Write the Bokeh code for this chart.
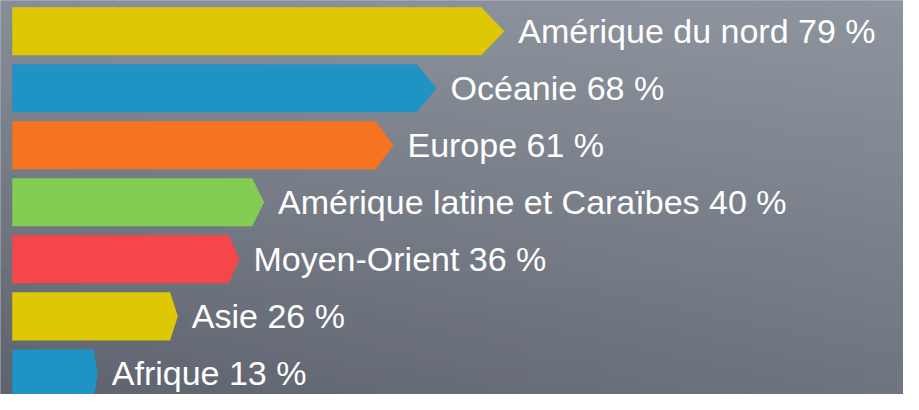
from bokeh.plotting import figure
from bokeh.models import Range1d, ColumnDataSource
from bokeh.core.properties import value
from bokeh.embed import file_html
from bokeh.resources import INLINE

# ---- data ----
regions = ["Amérique du nord", "Océanie", "Europe", "Amérique latine et Caraïbes",
           "Moyen-Orient", "Asie", "Afrique"]
percent = [79, 68, 61, 40, 36, 26, 13]
colors = ["#DEC805", "#1F93C4", "#F57321", "#83CD53", "#F5474A", "#DEC805", "#1F93C4"]

# ---- layout / style ----
W, H = 903, 394
X0, X1 = -2.79, 143.8
YB, YT = 6.370, -0.539
BAR_START = -0.88
BAR_H = 0.842
TIP_FRAC = 0.047

p = figure(width=W, height=H, output_backend="svg", toolbar_location=None,
           x_range=Range1d(X0, X1), y_range=Range1d(YB, YT),
           x_axis_type=None, y_axis_type=None, min_border=0)
p.outline_line_color = None
p.background_fill_color = "#7a808a"
p.border_fill_color = "#7a808a"

# background gradient (style only)
TL, TR, BL, BR = (0x88, 0x8e, 0x97), (0x8f, 0x95, 0x9e), (0x5d, 0x62, 0x6d), (0x6e, 0x74, 0x80)
nx, ny = 24, 48
bl, br, bt, bb, bc = [], [], [], [], []
for j in range(ny):
    v = (j + 0.5) / ny
    for i in range(nx):
        u = (i + 0.5) / nx
        c = [round((1-u)*(1-v)*TL[k] + u*(1-v)*TR[k] + (1-u)*v*BL[k] + u*v*BR[k]) for k in range(3)]
        bl.append(X0 + (X1 - X0) * i / nx - 0.2)
        br.append(X0 + (X1 - X0) * (i + 1) / nx + 0.2)
        bt.append(YT + (YB - YT) * j / ny - 0.01)
        bb.append(YT + (YB - YT) * (j + 1) / ny + 0.01)
        bc.append("#%02x%02x%02x" % tuple(c))
p.quad(left=bl, right=br, top=bt, bottom=bb, fill_color=bc, line_color=None)

# arrow-shaped bars
xs, ys = [], []
for i, v in enumerate(percent):
    tip = TIP_FRAC * (v - BAR_START)
    y0, y1 = i - BAR_H / 2, i + BAR_H / 2
    xs.append([BAR_START, v - tip, v, v - tip, BAR_START])
    ys.append([y0, y0, i, y1, y1])
src = ColumnDataSource(dict(xs=xs, ys=ys, color=colors))
p.patches("xs", "ys", source=src, fill_color="color", line_color=None)

labels = [f"{r} {v} %" for r, v in zip(regions, percent)]
tsrc = ColumnDataSource(dict(x=percent, y=list(range(len(percent))), t=labels))
p.text(x="x", y="y", text="t", source=tsrc, x_offset=14, text_baseline="middle",
       text_align="left", text_font=value("Liberation Sans"), text_font_size="34px",
       text_color="white")

open("out.html", "w").write(file_html(p, INLINE))
